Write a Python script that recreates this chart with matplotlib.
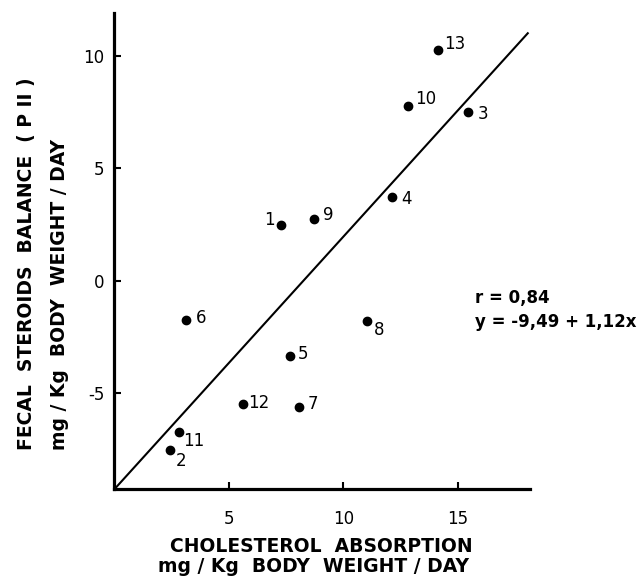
import numpy as np
import matplotlib
matplotlib.use("Agg")
import matplotlib.pyplot as plt

# subject number, cholesterol absorption, fecal steroids balance
subjects = ["1", "2", "3", "4", "5", "6", "7", "8", "9", "10", "11", "12", "13"]
absorption = [7.26, 2.41, 15.45, 12.11, 7.68, 3.13, 8.04, 11.01, 8.70, 12.81, 2.80, 5.62, 14.14]
balance = [2.49, -7.51, 7.52, 3.72, -3.33, -1.73, -5.58, -1.76, 2.77, 7.75, -6.70, -5.47, 10.27]

# regression line as drawn
line_x = [0.0, 18.05]
line_y = [-9.25, 11.0]

xticks = [5, 10, 15]
yticks = [-5, 0, 5, 10]

# label offsets in pixels (dx, dy)
label_offsets = [(-11, 5), (11, -11), (15, -2), (15, -2), (13, 2), (15, 2), (14, 3),
                 (13, -9), (15, 4), (18, 7), (15, -9), (16, 1), (17, 6)]

plt.rcParams['font.family'] = ['DejaVu Sans']

fig = plt.figure(figsize=(6.43, 5.8), dpi=100)
ax = fig.add_axes([0.178, 0.157, 0.824 - 0.178, 0.978 - 0.157])

ax.plot(line_x, line_y, color='black', linewidth=1.5)
ax.plot(absorption, balance, 'o', color='black', markersize=6)

for name, x, y, off in zip(subjects, absorption, balance, label_offsets):
    ax.annotate(name, (x, y), xytext=off, textcoords='offset pixels',
                ha='center', va='center', fontsize=12)

ax.set_xlim(0, 18.14)
ax.set_ylim(-9.24, 11.91)
ax.set_xticks(xticks)
ax.set_yticks(yticks)
ax.set_xticklabels([str(t) for t in xticks], fontsize=12)
ax.set_yticklabels([str(t) for t in yticks], fontsize=12)
ax.tick_params(direction='in', length=5, width=1.5)
ax.tick_params(axis='y', pad=7)
ax.tick_params(axis='x', pad=15)

for side in ['top', 'right']:
    ax.spines[side].set_visible(False)
for side in ['left', 'bottom']:
    ax.spines[side].set_linewidth(2.3)

fig.text(475 / 643, (580 - 298) / 580, 'r = 0,84', fontsize=12, fontweight='bold',
         ha='left', va='center')
fig.text(475 / 643, (580 - 322) / 580, 'y = -9,49 + 1,12x', fontsize=12,
         fontweight='bold', ha='left', va='center')

# y axis label, two lines
fig.text(27 / 643, (580 - 450) / 580, 'FECAL  STEROIDS  BALANCE  ( P II )',
         rotation=90, ha='center', va='bottom', fontsize=13.5, fontweight='bold')
fig.text(60 / 643, (580 - 450) / 580, 'mg / Kg  BODY  WEIGHT / DAY',
         rotation=90, ha='center', va='bottom', fontsize=13.5, fontweight='bold')

# x axis label, two lines
fig.text(321 / 643, (580 - 546) / 580, 'CHOLESTEROL  ABSORPTION',
         ha='center', va='center', fontsize=13.5, fontweight='bold')
fig.text(313 / 643, (580 - 566) / 580, 'mg / Kg  BODY  WEIGHT / DAY',
         ha='center', va='center', fontsize=13.5, fontweight='bold')

fig.savefig('out.png', dpi=100)
